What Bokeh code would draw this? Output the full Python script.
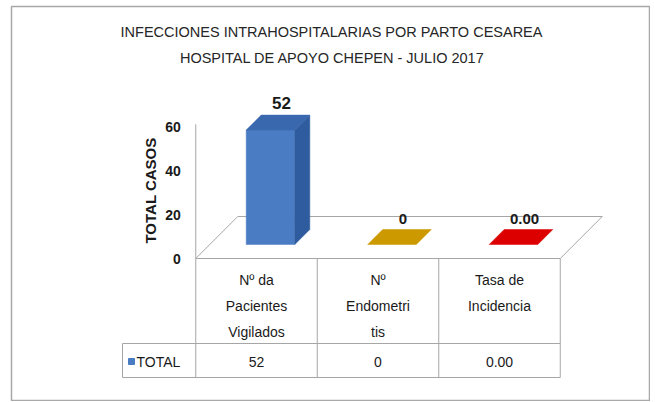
from bokeh.plotting import figure
from bokeh.models import Range1d
from bokeh.core.properties import value
from bokeh.embed import file_html
from bokeh.resources import INLINE

# ---------------- data ----------------
title_lines = ["INFECCIONES INTRAHOSPITALARIAS POR PARTO CESAREA",
               "HOSPITAL DE APOYO CHEPEN - JULIO 2017"]
categories = [["Nº da", "Pacientes", "Vigilados"],
              ["Nº", "Endometri", "tis"],
              ["Tasa de", "Incidencia"]]
values = [52, 0, 0.0]
value_labels = ["52", "0", "0.00"]
series_name = "TOTAL"
y_ticks = [0, 20, 40, 60]
y_axis_label = "TOTAL CASOS"
front_colors = ["#4A7CC4", "#CC9900", "#E00000"]
side_colors = ["#2F5C9E", "#A67C00", "#B00000"]
top_colors = ["#3A68AE", "#CC9900", "#DD0000"]

# ---------------- layout helpers (image px -> data) ----------------
X0_PX, X_STEP = 256.0, 121.5
Y0_PX, Y_STEP = 258.0, 2.2
FONT = "Liberation Sans"


def ix(px):
    return (px - X0_PX) / X_STEP


def iy(px):
    return (Y0_PX - px) / Y_STEP


def dx(px):
    return px / X_STEP


def dy(px):
    return px / Y_STEP


W, H = 650, 401
p = figure(width=W, height=H, output_backend="svg", toolbar_location=None,
           x_axis_type=None, y_axis_type=None, min_border=0,
           min_border_left=11, min_border_right=1, min_border_top=6,
           min_border_bottom=1)
p.x_range = Range1d(ix(11), ix(649))
p.y_range = Range1d(iy(400), iy(6))
p.grid.visible = False
p.outline_line_color = "#A8A8A8"
p.outline_line_width = 1.5
p.background_fill_color = "white"
p.border_fill_color = "white"

n = len(categories)
GRAY = "#A6A6A6"

# floor
FD = 42
fl = -0.5
fr = n - 0.5
p.patch([fl, fr, fr + dx(FD), fl + dx(FD)], [0, 0, dy(FD), dy(FD)],
        fill_color="white", line_color=GRAY, line_width=1)

# bars
BW = 0.2
D1, D2 = 14, 29
fxs, fys, fcs = [], [], []
for i, v in enumerate(values):
    fx0 = i - BW + dx(D1)
    fx1 = i + BW + dx(D1)
    bx0 = i - BW + dx(D2)
    bx1 = i + BW + dx(D2)
    fy0 = dy(D1)
    fy1 = v + dy(D1)
    by0 = dy(D2)
    by1 = v + dy(D2)
    if v > 0:
        fxs.append([fx0, fx1, fx1, fx0]); fys.append([fy0, fy0, fy1, fy1]); fcs.append(front_colors[i])
        fxs.append([fx1, bx1, bx1, fx1]); fys.append([fy0, by0, by1, fy1]); fcs.append(side_colors[i])
        fxs.append([fx0, fx1, bx1, bx0]); fys.append([fy1, fy1, by1, by1]); fcs.append(top_colors[i])
    else:
        fxs.append([fx0, fx1, bx1, bx0]); fys.append([fy1, fy1, by1, by1]); fcs.append(top_colors[i])
p.patches(fxs, fys, fill_color=fcs, line_color=fcs, line_width=0.5)

# value labels
for i, v in enumerate(values):
    p.text([i + dx(25)], [v + dy(D2 + 6)], text=[value_labels[i]],
           text_font=value(FONT), text_font_style="bold",
           text_font_size="17px" if v > 0 else "15px",
           text_align="center", text_baseline="bottom", text_color="#1A1A1A")

# y axis
p.segment([-0.5], [0], [-0.5], [max(y_ticks) + 1], line_color=GRAY, line_width=1)
p.text([-0.5 - dx(15)] * len(y_ticks), y_ticks, text=[str(t) for t in y_ticks],
       text_font=value(FONT), text_font_style="bold", text_font_size="14px",
       text_align="right", text_baseline="middle", text_color="#1A1A1A")
p.text([ix(150)], [iy(190)], text=[y_axis_label], angle=1.5708,
       text_font=value(FONT), text_font_style="bold", text_font_size="15px",
       text_align="center", text_baseline="middle", text_color="#1A1A1A")

# title
p.text([ix(331), ix(332)], [iy(31), iy(57)], text=title_lines,
       text_font=value(FONT), text_font_size="14.5px",
       text_align="center", text_baseline="middle", text_color="#262626")

# data table
row_sep = iy(343)
bottom = iy(377)
left = ix(122)
xs0, ys0, xs1, ys1 = [], [], [], []
for k in range(n + 1):
    xs0.append(k - 0.5); ys0.append(0); xs1.append(k - 0.5); ys1.append(bottom)
xs0 += [left, left, left]; ys0 += [row_sep, bottom, row_sep]
xs1 += [fr, fr, left]; ys1 += [row_sep, bottom, bottom]
p.segment(xs0, ys0, xs1, ys1, line_color=GRAY, line_width=1)

line_px = [279, 305, 331]
tx, ty, tt = [], [], []
for i, lines in enumerate(categories):
    for j, s in enumerate(lines):
        tx.append(i); ty.append(iy(line_px[j])); tt.append(s)
p.text(tx, ty, text=tt, text_font=value(FONT), text_font_size="14px",
       text_align="center", text_baseline="middle", text_color="#1A1A1A")

p.text(list(range(n)), [iy(361)] * n, text=value_labels, text_font=value(FONT),
       text_font_size="14px", text_align="center", text_baseline="middle",
       text_color="#1A1A1A")
p.scatter([ix(131)], [iy(361)], marker="square", size=6,
          fill_color=front_colors[0], line_color=front_colors[0])
p.text([ix(136)], [iy(361)], text=[series_name], text_font=value(FONT),
       text_font_size="14px", text_align="left", text_baseline="middle",
       text_color="#1A1A1A")

open("out.html", "w").write(file_html(p, INLINE))
